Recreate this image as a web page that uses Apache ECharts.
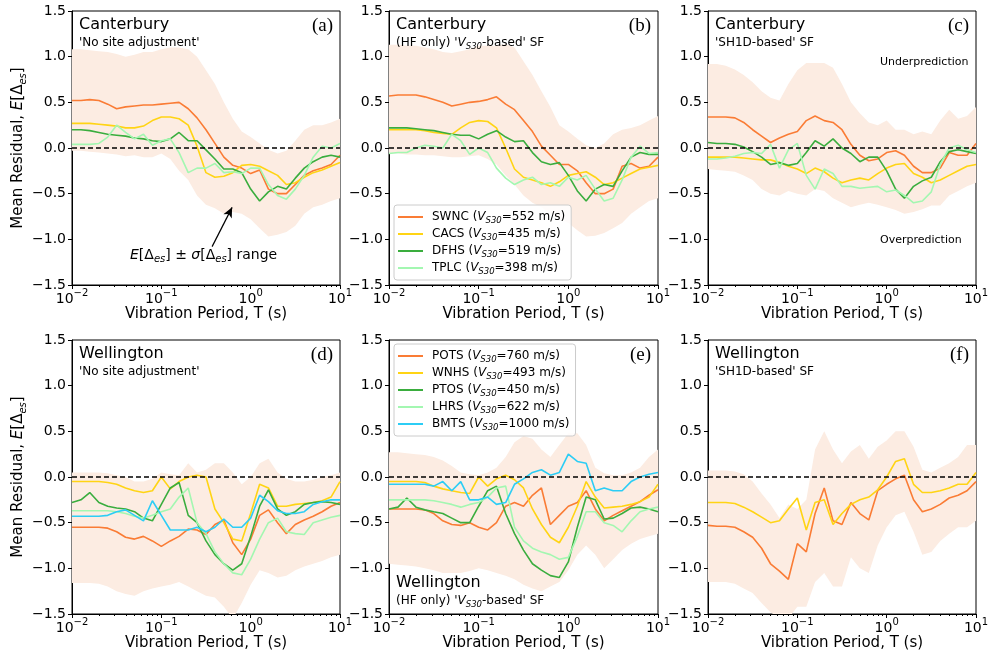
<!DOCTYPE html>
<html><head><meta charset="utf-8">
<script src="https://cdn.jsdelivr.net/npm/echarts@6/dist/echarts.min.js"></script>
<style>html,body{margin:0;padding:0;background:#fff}#c{width:992px;height:660px}</style>
</head><body><div id="c"></div>
<script>
// Vibration periods (s)
const periods = [0.01,0.0126,0.0158,0.02,0.0251,0.0316,0.0398,0.0501,0.0631,0.0794,0.1,0.126,0.158,0.2,0.251,0.316,0.398,0.501,0.631,0.794,1,1.26,1.58,2,2.51,3.16,3.98,5.01,6.31,7.94,10];

// (a) Canterbury - No site adjustment
const aSWNC = [0.52,0.52,0.53,0.52,0.48,0.43,0.45,0.46,0.47,0.47,0.48,0.49,0.50,0.43,0.33,0.20,0.05,-0.10,-0.19,-0.22,-0.28,-0.24,-0.45,-0.50,-0.50,-0.40,-0.30,-0.25,-0.22,-0.18,-0.08];
const aCACS = [0.27,0.27,0.27,0.26,0.25,0.24,0.22,0.22,0.24,0.30,0.34,0.34,0.32,0.25,0.02,-0.27,-0.32,-0.31,-0.27,-0.19,-0.18,-0.20,-0.25,-0.30,-0.40,-0.38,-0.32,-0.27,-0.24,-0.20,-0.16];
const aDFHS = [0.20,0.20,0.19,0.17,0.15,0.14,0.13,0.11,0.10,0.08,0.07,0.10,0.17,0.08,0.08,-0.02,-0.12,-0.23,-0.23,-0.27,-0.45,-0.58,-0.48,-0.42,-0.45,-0.33,-0.22,-0.15,-0.10,-0.08,-0.10];
const aTPLC = [0.04,0.04,0.04,0.05,0.12,0.25,0.17,0.10,0.15,0.03,0.08,0.10,-0.05,-0.27,-0.22,-0.22,-0.17,-0.27,-0.26,-0.28,-0.22,-0.22,-0.40,-0.52,-0.56,-0.45,-0.30,-0.10,0.02,0.00,0.05];
const aUp = [1.08,1.08,1.07,1.06,1.05,1.03,1.00,1.02,1.05,1.05,1.08,1.10,1.10,1.08,1.00,0.85,0.70,0.50,0.32,0.18,0.12,0.05,-0.02,-0.06,-0.03,0.08,0.20,0.25,0.25,0.28,0.32];
const aLo = [-0.03,-0.03,-0.04,-0.05,-0.06,-0.07,-0.09,-0.08,-0.10,-0.10,-0.06,-0.12,-0.25,-0.35,-0.52,-0.62,-0.66,-0.72,-0.70,-0.72,-0.78,-0.88,-0.97,-0.95,-0.92,-0.85,-0.72,-0.65,-0.62,-0.58,-0.55];

// (b) Canterbury - (HF only) VS30-based SF
const bSWNC = [0.57,0.58,0.58,0.58,0.56,0.53,0.50,0.46,0.48,0.50,0.51,0.53,0.56,0.48,0.42,0.30,0.18,0.02,-0.08,-0.18,-0.18,-0.25,-0.38,-0.50,-0.50,-0.45,-0.20,-0.17,-0.22,-0.20,-0.10];
const bCACS = [0.20,0.20,0.20,0.20,0.19,0.17,0.16,0.15,0.22,0.28,0.30,0.29,0.22,0.00,-0.23,-0.32,-0.35,-0.38,-0.42,-0.37,-0.30,-0.28,-0.26,-0.32,-0.40,-0.38,-0.33,-0.28,-0.23,-0.21,-0.19];
const bDFHS = [0.22,0.22,0.22,0.21,0.20,0.19,0.17,0.15,0.14,0.14,0.10,0.15,0.19,0.12,0.07,0.08,-0.05,-0.15,-0.18,-0.16,-0.30,-0.47,-0.58,-0.45,-0.40,-0.42,-0.25,-0.10,-0.05,-0.07,-0.07];
const bTPLC = [-0.06,-0.05,-0.05,0.00,0.03,0.02,0.00,0.15,0.08,-0.07,0.00,-0.05,-0.22,-0.33,-0.40,-0.35,-0.32,-0.40,-0.38,-0.42,-0.32,-0.35,-0.30,-0.45,-0.58,-0.55,-0.35,-0.10,0.02,-0.06,-0.05];
const bUp = [1.13,1.13,1.12,1.12,1.10,1.08,1.05,1.04,1.06,1.08,1.12,1.12,1.12,1.14,1.10,0.95,0.80,0.62,0.45,0.25,0.18,0.10,0.03,0.00,0.05,0.15,0.20,0.22,0.25,0.30,0.35];
const bLo = [-0.06,-0.06,-0.07,-0.07,-0.08,-0.08,-0.09,-0.10,-0.10,-0.09,-0.08,-0.12,-0.18,-0.30,-0.40,-0.52,-0.60,-0.65,-0.72,-0.78,-0.82,-0.90,-0.97,-0.96,-0.93,-0.88,-0.82,-0.72,-0.65,-0.58,-0.55];

// (c) Canterbury - SH1D-based SF
const cSWNC = [0.34,0.34,0.34,0.33,0.28,0.20,0.13,0.06,0.11,0.15,0.18,0.30,0.35,0.30,0.28,0.20,0.04,-0.08,-0.14,-0.12,-0.05,-0.03,-0.08,-0.20,-0.27,-0.27,-0.22,-0.05,-0.08,-0.08,0.05];
const cCACS = [-0.10,-0.10,-0.10,-0.10,-0.11,-0.12,-0.13,-0.13,-0.16,-0.20,-0.23,-0.28,-0.22,-0.26,-0.33,-0.38,-0.35,-0.33,-0.35,-0.28,-0.22,-0.18,-0.17,-0.28,-0.32,-0.38,-0.35,-0.30,-0.25,-0.20,-0.18];
const cDFHS = [0.06,0.05,0.05,0.04,0.01,-0.04,-0.10,-0.18,-0.16,-0.19,-0.17,-0.05,0.08,0.02,0.10,0.00,-0.06,-0.15,-0.10,-0.10,-0.25,-0.45,-0.55,-0.42,-0.36,-0.32,-0.15,-0.04,-0.02,-0.04,-0.06];
const cTPLC = [-0.12,-0.12,-0.11,-0.09,-0.06,-0.05,-0.06,0.04,-0.22,-0.02,0.05,-0.30,-0.45,-0.23,-0.28,-0.42,-0.42,-0.44,-0.43,-0.42,-0.48,-0.46,-0.52,-0.60,-0.58,-0.48,-0.18,0.00,0.03,-0.02,-0.05];
const cUp = [0.92,0.92,0.90,0.86,0.80,0.72,0.62,0.55,0.52,0.70,0.85,0.93,0.93,0.93,0.88,0.70,0.50,0.38,0.28,0.25,0.30,0.20,0.20,0.15,0.18,0.15,0.30,0.42,0.32,0.35,0.45];
const cLo = [-0.23,-0.24,-0.25,-0.26,-0.30,-0.35,-0.45,-0.50,-0.52,-0.47,-0.50,-0.52,-0.45,-0.47,-0.55,-0.60,-0.65,-0.62,-0.60,-0.62,-0.65,-0.68,-0.72,-0.70,-0.67,-0.63,-0.63,-0.52,-0.47,-0.42,-0.38];

// (d) Wellington - No site adjustment
const dPOTS = [-0.55,-0.55,-0.55,-0.55,-0.56,-0.60,-0.66,-0.68,-0.65,-0.70,-0.76,-0.70,-0.65,-0.57,-0.58,-0.63,-0.52,-0.47,-0.72,-0.85,-0.68,-0.42,-0.36,-0.50,-0.62,-0.52,-0.47,-0.43,-0.38,-0.32,-0.28];
const dWNHS = [-0.05,-0.05,-0.05,-0.05,-0.06,-0.08,-0.12,-0.15,-0.17,-0.15,0.00,-0.13,-0.05,0.00,0.02,0.00,-0.35,-0.50,-0.68,-0.70,-0.40,-0.08,-0.12,-0.32,-0.32,-0.30,-0.29,-0.28,-0.26,-0.22,-0.05];
const dPTOS = [-0.28,-0.25,-0.17,-0.28,-0.32,-0.34,-0.35,-0.38,-0.45,-0.48,-0.30,-0.12,-0.06,-0.42,-0.50,-0.70,-0.85,-0.95,-1.02,-0.95,-0.65,-0.32,-0.14,-0.35,-0.42,-0.38,-0.30,-0.28,-0.27,-0.28,-0.30];
const dLHRS = [-0.37,-0.37,-0.37,-0.37,-0.37,-0.38,-0.40,-0.43,-0.45,-0.42,-0.38,-0.35,-0.22,-0.12,-0.50,-0.62,-0.82,-0.95,-1.05,-1.07,-0.90,-0.68,-0.50,-0.45,-0.60,-0.62,-0.63,-0.50,-0.47,-0.44,-0.42];
const dBMTS = [-0.43,-0.43,-0.43,-0.43,-0.42,-0.38,-0.36,-0.42,-0.48,-0.26,-0.42,-0.58,-0.58,-0.58,-0.55,-0.60,-0.55,-0.46,-0.55,-0.55,-0.45,-0.20,-0.27,-0.37,-0.40,-0.40,-0.38,-0.30,-0.27,-0.25,-0.25];
const dUp = [0.05,0.05,0.05,0.05,0.04,0.02,0.00,-0.05,-0.05,-0.02,0.05,0.03,0.02,0.15,0.05,0.08,0.15,0.15,0.05,-0.08,0.00,0.15,0.20,0.05,-0.02,-0.05,-0.05,-0.03,0.00,0.02,0.05];
const dLo = [-1.16,-1.16,-1.16,-1.17,-1.20,-1.25,-1.28,-1.30,-1.25,-1.22,-1.20,-1.18,-1.15,-1.20,-1.25,-1.30,-1.32,-1.42,-1.55,-1.38,-1.18,-1.02,-1.05,-1.10,-1.08,-1.02,-0.98,-0.95,-0.92,-0.88,-0.85];

// (e) Wellington - (HF only) VS30-based SF
const ePOTS = [-0.35,-0.35,-0.35,-0.35,-0.36,-0.40,-0.48,-0.52,-0.53,-0.50,-0.55,-0.58,-0.50,-0.32,-0.28,-0.32,-0.20,-0.12,-0.52,-0.42,-0.32,-0.28,-0.15,-0.35,-0.48,-0.42,-0.37,-0.32,-0.27,-0.20,-0.14];
const eWNHS = [-0.05,-0.05,-0.05,-0.05,-0.06,-0.10,-0.13,-0.15,-0.17,-0.18,0.00,-0.10,-0.02,0.02,-0.03,-0.12,-0.35,-0.52,-0.66,-0.72,-0.55,-0.32,-0.05,-0.22,-0.34,-0.33,-0.32,-0.30,-0.27,-0.22,-0.08];
const ePTOS = [-0.35,-0.33,-0.23,-0.33,-0.36,-0.38,-0.40,-0.45,-0.50,-0.50,-0.32,-0.15,-0.10,-0.40,-0.62,-0.80,-0.95,-1.02,-1.08,-1.10,-0.93,-0.55,-0.22,-0.25,-0.46,-0.45,-0.40,-0.34,-0.33,-0.35,-0.38];
const eLHRS = [-0.25,-0.25,-0.25,-0.25,-0.25,-0.26,-0.28,-0.30,-0.33,-0.30,-0.28,-0.22,-0.12,-0.10,-0.55,-0.70,-0.78,-0.82,-0.85,-0.90,-0.88,-0.65,-0.38,-0.38,-0.50,-0.53,-0.60,-0.48,-0.38,-0.35,-0.33];
const eBMTS = [-0.08,-0.08,-0.08,-0.08,-0.08,-0.10,-0.05,-0.15,-0.05,-0.25,-0.25,-0.22,-0.30,-0.28,-0.08,-0.02,0.05,0.08,0.02,0.05,0.25,0.17,0.15,-0.15,-0.12,-0.15,-0.15,-0.05,0.00,0.03,0.05];
const eUp = [0.27,0.27,0.26,0.25,0.24,0.22,0.18,0.12,0.05,0.03,0.02,0.05,0.10,0.22,0.38,0.45,0.42,0.30,0.22,0.35,0.48,0.48,0.35,0.10,0.04,0.02,0.02,0.05,0.10,0.22,0.30];
const eLo = [-0.95,-0.96,-0.97,-0.98,-1.00,-1.02,-1.05,-1.05,-1.05,-1.03,-1.00,-1.02,-1.05,-1.08,-1.12,-1.18,-1.22,-1.25,-1.20,-1.15,-1.02,-0.85,-0.75,-0.85,-1.00,-0.90,-0.80,-0.73,-0.68,-0.65,-0.62];

// (f) Wellington - SH1D-based SF
const fPOTS = [-0.53,-0.54,-0.54,-0.55,-0.60,-0.66,-0.78,-0.95,-1.03,-1.12,-0.73,-0.82,-0.40,-0.12,-0.48,-0.52,-0.28,-0.40,-0.47,-0.15,-0.08,-0.02,0.02,-0.25,-0.38,-0.35,-0.30,-0.23,-0.20,-0.15,-0.05];
const fWNHS = [-0.28,-0.28,-0.28,-0.29,-0.33,-0.38,-0.44,-0.50,-0.48,-0.35,-0.23,-0.58,-0.28,-0.25,-0.52,-0.40,-0.30,-0.25,-0.22,-0.14,0.00,0.17,0.20,-0.08,-0.17,-0.17,-0.15,-0.12,-0.08,-0.08,0.05];
const fUp = [0.07,0.07,0.07,0.06,0.03,-0.05,-0.18,-0.30,-0.45,-0.30,-0.35,-0.25,0.30,0.50,0.30,0.15,0.28,0.35,0.20,0.33,0.40,0.50,0.50,0.33,0.08,0.05,0.10,0.15,0.22,0.35,0.35];
const fLo = [-1.15,-1.15,-1.15,-1.17,-1.22,-1.27,-1.38,-1.48,-1.55,-1.55,-1.42,-1.42,-1.15,-1.05,-1.20,-1.20,-0.88,-1.00,-1.05,-0.75,-0.55,-0.42,-0.38,-0.60,-0.85,-0.82,-0.70,-0.62,-0.55,-0.55,-0.48];

// Stations and VS30
const cantStations = ['SWNC','CACS','DFHS','TPLC'];
const cantVs30 = [552,435,519,398];
const wellStations = ['POTS','WNHS','PTOS','LHRS','BMTS'];
const wellVs30 = [760,493,450,622,1000];

// axis ranges
const yMin = -1.5, yMax = 1.5, yStep = 0.5;
const xMin = 0.01, xMax = 10;

// annotation arrow in panel (a): [period, residual]
const arrowFrom = [0.37, -1.08];
const arrowTo = [0.62, -0.65];

const FONT = 'DejaVu Sans';
const SERIF = 'Liberation Serif';
const COL = ['#fa7c35', '#ffd414', '#3aad3e', '#a3f7b1', '#2ccdf5'];
const BAND = '#fcece2';

const grids = [[72,11,268],[389,11,269],[708,11,268],[72,340,268],[389,340,269],[708,340,268]];
const H = 274;

const vsName = (s, v) => s + ' (VS30=' + v + ' m/s)';
const panels = [
  {curves:[aSWNC,aCACS,aDFHS,aTPLC], st:cantStations, vs:cantVs30, up:aUp, lo:aLo, tag:'a'},
  {curves:[bSWNC,bCACS,bDFHS,bTPLC], st:cantStations, vs:cantVs30, up:bUp, lo:bLo, tag:'b', legend:true},
  {curves:[cSWNC,cCACS,cDFHS,cTPLC], st:cantStations, vs:cantVs30, up:cUp, lo:cLo, tag:'c'},
  {curves:[dPOTS,dWNHS,dPTOS,dLHRS,dBMTS], st:wellStations, vs:wellVs30, up:dUp, lo:dLo, tag:'d'},
  {curves:[ePOTS,eWNHS,ePTOS,eLHRS,eBMTS], st:wellStations, vs:wellVs30, up:eUp, lo:eLo, tag:'e', legend:true},
  {curves:[fPOTS,fWNHS], st:wellStations, vs:wellVs30, up:fUp, lo:fLo, tag:'f'}
];

const supMap = {'-2':'−2','-1':'−1','0':'0','1':'1'};
const series = [];
panels.forEach((p, pi) => {
  // E ± sigma band as one clipped polygon, positioned through the axes' scales
  series.push({
    type:'custom', name:'band-'+p.tag, xAxisIndex:pi, yAxisIndex:pi, silent:true, z:1, animation:false,
    data: periods.map((t,i)=>[t, p.lo[i], p.up[i]]),
    encode:{x:0, y:[1,2]},
    renderItem: (params, api) => {
      if (params.dataIndex !== 0) return null;
      const pts = [];
      for (let i = 0; i < periods.length; i++) pts.push(api.coord([periods[i], p.up[i]]));
      for (let i = periods.length - 1; i >= 0; i--) pts.push(api.coord([periods[i], p.lo[i]]));
      const cs = params.coordSys;
      return {type:'group',
        clipPath:{type:'rect', shape:{x:cs.x, y:cs.y, width:cs.width, height:cs.height}},
        children:[{type:'polygon', shape:{points:pts}, style:{fill:BAND}}]};
    }
  });
  p.curves.forEach((vals, k) => {
    const nm = p.legend ? vsName(p.st[k], p.vs[k]) : p.tag + '-' + p.st[k];
    const s = {
      type:'line', name:nm, xAxisIndex:pi, yAxisIndex:pi,
      data: periods.map((t,i)=>[t, vals[i]]),
      symbol:'none', showSymbol:false, z:3, animation:false,
      lineStyle:{color:COL[k], width:1.6}, itemStyle:{color:COL[k]}
    };
    if (k === p.curves.length - 1) {
      const ml = [{yAxis:0, lineStyle:{type:[5,3], color:'#000', width:1.5}}];
      if (p.tag === 'a') {
        ml.push([{coord:arrowFrom, symbol:'none'}, {coord:arrowTo, symbol:'arrow', symbolSize:[7,10]}]);
      }
      s.markLine = {silent:true, symbol:['none','none'], animation:false, label:{show:false},
        lineStyle:{color:'#000', width:1.2, type:'solid'}, emphasis:{disabled:true}, data: ml};
    }
    series.push(s);
  });
});

const subRich = {
  i:{fontStyle:'italic', fontSize:12, fontFamily:FONT, color:'#000', lineHeight:16},
  s:{fontStyle:'italic', fontSize:8.5, fontFamily:FONT, color:'#000', lineHeight:8, padding:[5,0,0,0], verticalAlign:'bottom'}
};

const legendCommon = {
  orient:'vertical', icon:'rect', itemWidth:25, itemHeight:2, itemGap:1,
  padding:[4,6,4,4], backgroundColor:'rgba(255,255,255,0.85)', borderColor:'#cccccc', borderWidth:1, borderRadius:3,
  selectedMode:false,
  textStyle:{fontFamily:FONT, fontSize:12, color:'#000', lineHeight:16, padding:[0,0,0,4], rich:subRich},
  formatter: n => n.replace('VS30', '{i|V}{s|S30}')
};

const xAxes = grids.map((g, i) => ({
  type:'log', logBase:10, gridIndex:i, min:xMin, max:xMax,
  name:'Vibration Period, T (s)', nameLocation:'middle', nameGap:18,
  nameTextStyle:{fontFamily:FONT, fontSize:15, color:'#000'},
  axisLine:{show:true, onZero:false, lineStyle:{color:'#000', width:1}},
  axisTick:{show:true, inside:false, length:4, lineStyle:{color:'#000'}},
  minorTick:{show:true, splitNumber:9, length:2, lineStyle:{color:'#000'}},
  splitLine:{show:false}, minorSplitLine:{show:false},
  axisLabel:{margin:3, color:'#000',
    formatter: v => '{b|10}{s|' + supMap[String(Math.round(Math.log10(v)))] + '}',
    rich:{b:{fontFamily:FONT, fontSize:14, color:'#000', lineHeight:18, verticalAlign:'bottom'},
          s:{fontFamily:FONT, fontSize:10, color:'#000', lineHeight:10, padding:[0,0,5,0], verticalAlign:'top'}}}
}));

const yAxes = grids.map((g, i) => ({
  type:'value', gridIndex:i, min:yMin, max:yMax, interval:yStep,
  name: (i % 3 === 0) ? '{n|Mean Residual, }{i|E}{n|[Δ}{s|es}{n|]}' : '',
  nameLocation:'middle', nameGap:44, nameRotate:90,
  nameTextStyle:{fontFamily:FONT, fontSize:15, color:'#000', rich:{
    n:{fontFamily:FONT, fontSize:15, color:'#000', lineHeight:20},
    i:{fontFamily:FONT, fontSize:15, fontStyle:'italic', color:'#000', lineHeight:20},
    s:{fontFamily:FONT, fontSize:10, fontStyle:'italic', color:'#000', lineHeight:10, padding:[6,0,0,0], verticalAlign:'bottom'}}},
  axisLine:{show:true, onZero:false, lineStyle:{color:'#000', width:1}},
  axisTick:{show:true, inside:false, length:4, lineStyle:{color:'#000'}},
  splitLine:{show:false},
  axisLabel:{margin:6, fontFamily:FONT, fontSize:14, color:'#000',
    formatter: v => (v < 0 ? '−' : '') + Math.abs(v).toFixed(1)}
}));

// text annotations
const graphic = [];
const titles = [
  ['Canterbury', "'No site adjustment'", '(a)'],
  ['Canterbury', "(HF only) '{i|V}{s|S30}-based' SF", '(b)'],
  ['Canterbury', "'SH1D-based' SF", '(c)'],
  ['Wellington', "'No site adjustment'", '(d)'],
  ['Wellington', "(HF only) '{i|V}{s|S30}-based' SF", '(e)'],
  ['Wellington', "'SH1D-based' SF", '(f)']
];
titles.forEach((t, i) => {
  const g = grids[i];
  const bottom = (i === 4);
  const ty = bottom ? g[1] + 243 : g[1] + 14;
  const sy = bottom ? g[1] + 261 : g[1] + 32;
  graphic.push({type:'text', x:g[0]+7, y:ty, silent:true, z:10,
    style:{text:t[0], fontFamily:FONT, fontSize:16, fill:'#000', align:'left', verticalAlign:'middle'}});
  graphic.push({type:'text', x:g[0]+7, y:sy, silent:true, z:10,
    style:{text:t[1], fontFamily:FONT, fontSize:12, fill:'#000', align:'left', verticalAlign:'middle', rich:subRich}});
  graphic.push({type:'text', x:g[0]+g[2]-7, y:g[1]+15, silent:true, z:10,
    style:{text:t[2], fontFamily:SERIF, fontSize:19, fill:'#000', align:'right', verticalAlign:'middle'}});
});
graphic.push({type:'text', x:grids[2][0]+172, y:grids[2][1]+51, silent:true, z:10,
  style:{text:'Underprediction', fontFamily:FONT, fontSize:11, fill:'#000', align:'left', verticalAlign:'middle'}});
graphic.push({type:'text', x:grids[2][0]+172, y:grids[2][1]+229, silent:true, z:10,
  style:{text:'Overprediction', fontFamily:FONT, fontSize:11, fill:'#000', align:'left', verticalAlign:'middle'}});
graphic.push({type:'text', x:grids[0][0]+58, y:grids[0][1]+244, silent:true, z:10,
  style:{text:'{i|E}[Δ{s|es}] ± {i|σ}[Δ{s|es}] range', fontFamily:FONT, fontSize:14, fill:'#000', align:'left', verticalAlign:'middle',
    rich:{i:{fontStyle:'italic', fontSize:14, fontFamily:FONT, fill:'#000', lineHeight:18},
          s:{fontStyle:'italic', fontSize:10, fontFamily:FONT, fill:'#000', lineHeight:10, padding:[6,0,0,0], verticalAlign:'bottom'}}}});

const option = {
  animation:false,
  backgroundColor:'#fff',
  textStyle:{fontFamily:FONT},
  grid: grids.map(g => ({left:g[0], top:g[1], width:g[2], height:H, show:true, borderColor:'#000', borderWidth:1,
    backgroundColor:'transparent', containLabel:false, outerBoundsMode:'none'})),
  xAxis: xAxes,
  yAxis: yAxes,
  legend: [
    Object.assign({left:394, top:205, data: cantStations.map((s,k)=>vsName(s, cantVs30[k]))}, legendCommon),
    Object.assign({left:394, top:344, data: wellStations.map((s,k)=>vsName(s, wellVs30[k]))}, legendCommon)
  ],
  graphic: graphic,
  series: series
};

const chart = echarts.init(document.getElementById('c'), null, {renderer:'canvas', width:992, height:660});
chart.setOption(option);
</script>
</body></html>
